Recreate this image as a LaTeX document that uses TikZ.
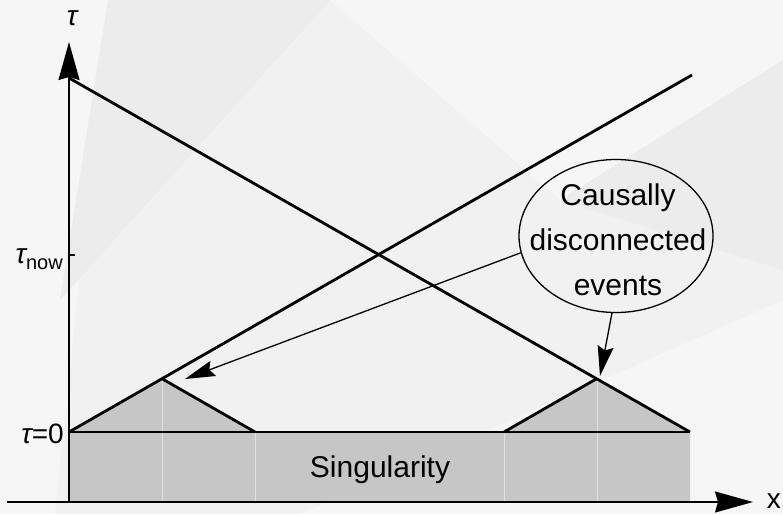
\documentclass[tikz,border=0pt]{standalone}
\usepackage{fontspec}
\setmainfont{Liberation Sans}
\usetikzlibrary{arrows.meta,shapes.geometric}
\definecolor{bgbase}{RGB}{241,241,241}
\definecolor{bglight}{RGB}{246,246,246}
\definecolor{bgdark}{RGB}{236,236,236}
\definecolor{fillg}{RGB}{198,198,198}
\definecolor{seam}{RGB}{224,224,224}
\begin{document}
\begin{tikzpicture}[x=1pt,y=-1pt,
  thickline/.style={line width=2.8pt,line join=miter},
  axisline/.style={line width=1.8pt},
  calloutline/.style={line width=1.3pt},
  seamline/.style={seam,line width=0.8pt},
  lbl/.style={inner sep=0pt,font=\fontsize{28}{32}\selectfont},
  bodytext/.style={inner sep=0pt,font=\fontsize{30}{45}\selectfont,align=center},
  bigtip/.style={-{Stealth[length=30pt,width=16pt,inset=4pt]}},
  axistip/.style={-{Stealth[length=38pt,width=21pt,inset=3pt]}}]
\useasboundingbox (0,0) rectangle (783,514);
% background facets
\fill[bgbase] (0,0) rectangle (783,514);
\fill[bglight] (0,0) -- (108,0) -- (55,514) -- (0,514) -- cycle;
\fill[bgdark] (108,0) -- (330,0) -- (60,300) -- cycle;
\fill[bglight] (330,0) -- (783,0) -- (783,60) -- (560,200) -- cycle;
\fill[bgdark] (560,200) -- (783,60) -- (783,270) -- cycle;
\fill[bglight] (300,514) -- (783,300) -- (783,514) -- cycle;
% key points
\coordinate (O) at (69,432);
\coordinate (A) at (162,378.7);
\coordinate (B) at (255,432);
\coordinate (C) at (504,432);
\coordinate (D) at (597,378.5);
\coordinate (E) at (690,432);
\coordinate (T1) at (69,78);
\coordinate (T2) at (692,75);
\coordinate (Ob) at (69,502);
\coordinate (Eb) at (690,502);
\coordinate (Ytip) at (69,42);
\coordinate (Xs) at (7,502);
\coordinate (Xtip) at (753,502);
\coordinate (Tk) at (69,255);
\coordinate (Tke) at (75,255);
% singularity region and light cones
\fill[fillg] (Ob) -- (O) -- (A) -- (B) -- (C) -- (D) -- (E) -- (Eb) -- cycle;
\draw[seamline] (A) -- (A|-Ob);
\draw[seamline] (B) -- (B|-Ob);
\draw[seamline] (C) -- (C|-Ob);
\draw[seamline] (D) -- (D|-Ob);
\draw[thickline] (O) -- (E);
\draw[thickline] (T1) -- (E);
\draw[thickline] (O) -- (T2);
\draw[thickline] (A) -- (B);
\draw[thickline] (C) -- (D);
% axes
\draw[axisline,axistip] (Ob) -- (Ytip);
\draw[axisline,axistip] (Xs) -- (Xtip);
\draw[line width=1.5pt] (Tk) -- (Tke);
% labels
\node[lbl,anchor=base] (tautop) at (72,25) {\itshape τ};
\node[lbl,anchor=base east] (xlab) at (781,508) {x};
\node[lbl,anchor=base east] (tau0) at (64,443) {{\itshape τ}=0};
\node[lbl,anchor=base east] (taunow) at (63,263) {{\itshape τ}\raisebox{-6pt}{\fontsize{20}{22}\selectfont now}};
\node[bodytext,anchor=base] (sing) at (380,477) {Singularity};
% callout
\node[draw,ellipse,calloutline,inner sep=0pt,minimum width=194pt,minimum height=153pt] (ce) at (616,236) {};
\node[bodytext] (cetext) at (618,240) {Causally\\disconnected\\events};
\coordinate (tgtL) at (185,379);
\coordinate (tgtR) at (600,376);
\draw[calloutline,bigtip] (ce.190) -- (tgtL);
\draw[calloutline,bigtip] (ce.267) -- (tgtR);
\end{tikzpicture}
\end{document}
